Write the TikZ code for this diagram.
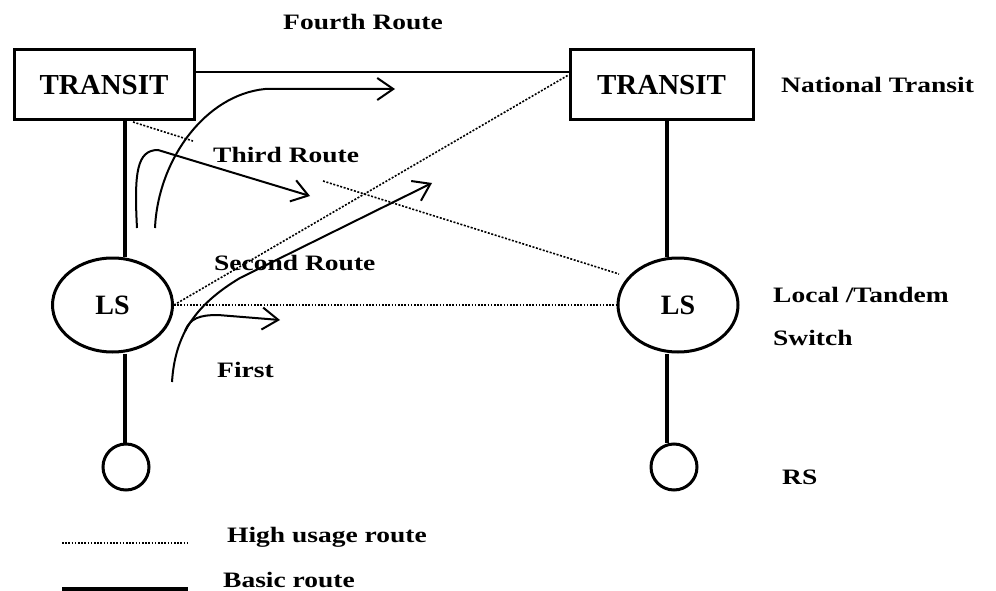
\documentclass[tikz,border=0pt]{standalone}
\usepackage{fontspec}
\setmainfont{Liberation Serif}
\newfontfamily\lblfont{Liberation Serif}[FakeStretch=1.25]
\usetikzlibrary{arrows.meta,calc,shapes.geometric}
\begin{document}
\begin{tikzpicture}[x=1pt,y=-1pt,
  box/.style={draw,line width=3pt,minimum width=180pt,minimum height=70pt,inner sep=0pt,font=\fontsize{29}{30}\selectfont\bfseries},
  lsnode/.style={draw,ellipse,line width=3pt,minimum width=120pt,minimum height=94pt,inner sep=0pt,font=\fontsize{28}{30}\selectfont\bfseries},
  rsnode/.style={draw,circle,line width=3pt,minimum size=46pt,inner sep=0pt},
  lbl/.style={inner sep=0pt,anchor=base west,font=\lblfont\fontsize{22}{26}\selectfont\bfseries},
  basic/.style={line width=4pt},
  trunk/.style={line width=2.5pt},
  high/.style={line width=1.6pt,dash pattern=on 2pt off 1.6pt},
  highthin/.style={line width=1.2pt,dash pattern=on 1.6pt off 1.6pt},
  route/.style={line width=2pt,-{Straight Barb[length=16pt,width=22pt,line width=2pt]}},
]
\fill[white] (0,0) rectangle (996,591);
\useasboundingbox (0,0) rectangle (996,591);

% nodes
\node[box] (T1) at (104,85) {TRANSIT};
\node[box,minimum width=183pt] (T2) at (661.5,85) {TRANSIT};
\node[lsnode] (LS1) at (112.5,305) {LS};
\node[lsnode] (LS2) at (678,305) {LS};
\node[rsnode] (RS1) at (126,467) {};
\node[rsnode] (RS2) at (674,467) {};

% basic route links
\coordinate (v1) at (125,0);
\coordinate (v2) at (667,0);
\draw[basic] (T1.south -| v1) -- (LS1.north -| v1);
\draw[basic] (LS1.south -| v1) -- (RS1.north -| v1);
\draw[basic] (T2.south -| v2) -- (LS2.north -| v2);
\draw[basic] (LS2.south -| v2) -- (RS2.north -| v2);
\draw[trunk] ($(T1.east)+(0,-13)$) -- ($(T2.west)+(0,-13)$);

% high usage routes
\draw[highthin] (LS1.east) -- (LS2.west);
\draw[high] (LS1.east) -- ($(T2.west)+(0,-10)$);
\coordinate (h3a) at (133,122);
\coordinate (h3b) at (193,141);
\coordinate (h3c) at (323,181);
\coordinate (h3d) at (619,274);
\draw[high] (h3a) -- (h3b);
\draw[high] (h3c) -- (h3d);

% route arrows
\coordinate (r4s) at (155,228);
\coordinate (r4e) at (395,89);
\draw[route] (r4s) .. controls (158,160) and (205,95) .. (265,89) -- (r4e);
\coordinate (r3s) at (137,228);
\coordinate (r3e) at (310,196);
\draw[route] (r3s) .. controls (134,172) and (137,150) .. (158,150) -- (r3e);
\coordinate (r2s) at (172,382);
\coordinate (r2e) at (432,183);
\draw[route] (r2s) .. controls (175,335) and (195,305) .. (240,278) -- (r2e);
\coordinate (r1s) at (185,331);
\coordinate (r1e) at (280,320);
\draw[route] (r1s) .. controls (190,318) and (200,315) .. (218,315) -- (r1e);

% labels
\node[lbl] (L4) at (283,30) {Fourth Route};
\node[lbl] (L3) at (213,162) {Third Route};
\node[lbl] (L2) at (214,270) {Second Route};
\node[lbl] (L1) at (217,377) {First};
\node[lbl] (LN) at (781,93) {National Transit};
\node[lbl] (LL) at (773,302) {Local /Tandem};
\node[lbl] (LW) at (773,345) {Switch};
\node[lbl] (LR) at (782,484) {RS};
\node[lbl] (LH) at (227,542) {High usage route};
\node[lbl] (LB) at (223,587) {Basic route};

% legend
\coordinate (g1a) at (62,543);
\coordinate (g1b) at (188,543);
\coordinate (g2a) at (62,589);
\coordinate (g2b) at (188,589);
\draw[highthin] (g1a) -- (g1b);
\draw[basic] (g2a) -- (g2b);
\end{tikzpicture}
\end{document}
